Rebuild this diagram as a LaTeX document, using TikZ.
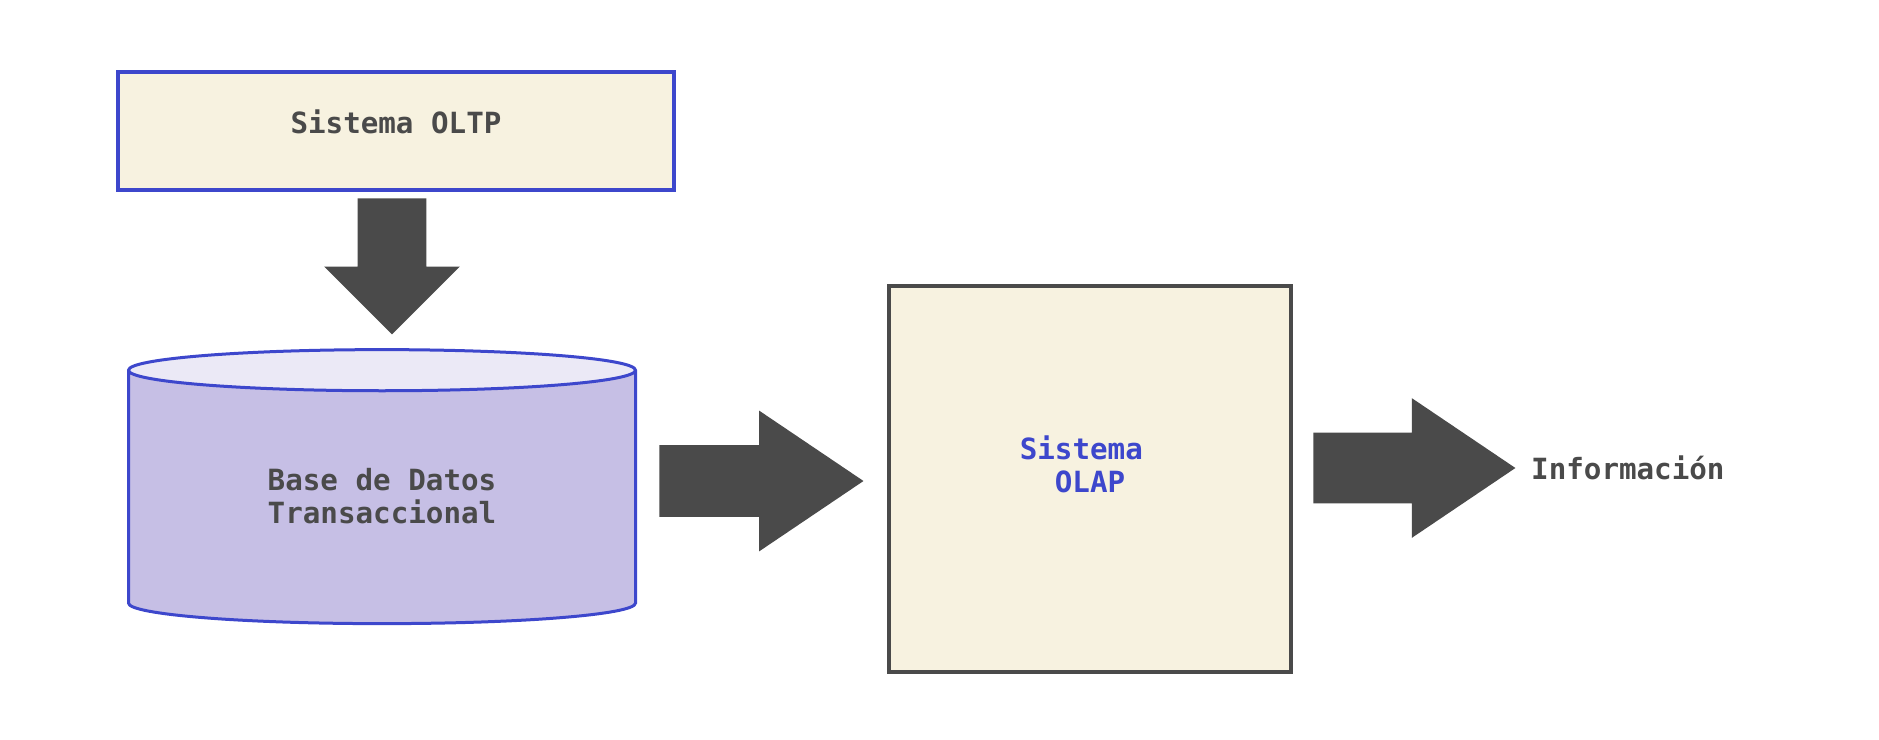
\documentclass[tikz,border=0pt]{standalone}
\usepackage{fontspec}
\setmonofont{DejaVu Sans Mono}
\usepackage{tikz}
\usetikzlibrary{shapes.geometric,shapes.arrows,positioning,calc}
\definecolor{azul}{HTML}{3D47CC}
\definecolor{gris}{HTML}{4A4A4A}
\definecolor{crema}{HTML}{F7F2E0}
\definecolor{lila}{HTML}{C6BFE5}
\definecolor{lilaclaro}{HTML}{EBE9F6}

\begin{document}
\begin{tikzpicture}[x=0.5pt,y=-0.5pt,
		texto/.style={font=\ttfamily\bfseries\fontsize{14.6}{16.5}\selectfont, text=gris},
		caja/.style={draw, line width=2pt, fill=crema, texto},
		flecha/.style={single arrow, fill=gris, draw=none, inner xsep=0pt, single arrow head indent=0pt}]
	\useasboundingbox (0,0) rectangle (1879,739);
			\node[caja, draw=azul, minimum width=278pt, minimum height=59pt, text depth=9pt] (OLTP) at (396,131) {Sistema OLTP} ;
			\node[cylinder, shape border rotate=90, aspect=0.17, draw=azul, line width=1.5pt, cylinder uses custom fill, cylinder body fill=lila, cylinder end fill=lilaclaro, minimum width=253.5pt, minimum height=137pt, texto, align=left, text depth=4pt] (BD) at (382,500) {Base de Datos\\Transaccional} ;
			\node[caja, draw=gris, minimum width=201pt, minimum height=193pt, text=azul, align=left, text depth=15pt] (OLAP) at (1090,479) {Sistema\\\hspace*{1.2em}OLAP\hspace*{1.2em}} ;
			\node[flecha, shape border rotate=270, minimum height=68pt, minimum width=67.5pt, inner sep=17pt, single arrow head extend=16.75pt, single arrow tip angle=90, below=3pt of OLTP, anchor=tail, xshift=-2pt] (bajada) {} ;
			\node[flecha, minimum height=102pt, minimum width=70pt, inner ysep=17.75pt, single arrow head extend=17.25pt, single arrow tip angle=68, right=11pt of BD, anchor=tail, yshift=9.5pt] (carga) {} ;
			\node[flecha, minimum height=101pt, minimum width=69.5pt, inner ysep=17.5pt, single arrow head extend=17.25pt, single arrow tip angle=68, right=10pt of OLAP, anchor=tail, yshift=5.5pt] (salida) {} ;
			\node[texto, right=4pt of salida.tip, anchor=west] (Info) {Información} ;
		\end{tikzpicture}
\end{document}
